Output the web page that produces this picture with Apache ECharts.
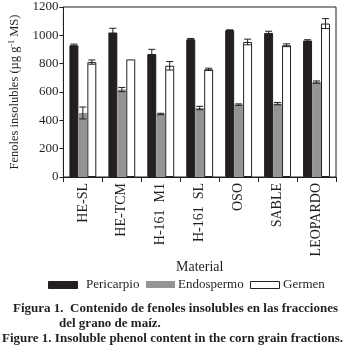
<!DOCTYPE html>
<html>
<head>
<meta charset="utf-8">
<script src="https://cdn.jsdelivr.net/npm/echarts@6/dist/echarts.min.js"></script>
<style>
  html, body { margin: 0; padding: 0; background: #fff; }
  #chart { width: 347px; height: 360px; }
</style>
</head>
<body>
<div id="chart"></div>
<script>
const categories = ['HE-SL', 'HE-TCM', 'H-161  M1', 'H-161  SL', 'OSO', 'SABLE', 'LEOPARDO']
const pericarpio = [930, 1020, 868, 972, 1036, 1017, 963]
const pericarpioErr = [8, 30, 33, 6, 3, 12, 6]
const endospermo = [452, 617, 445, 487, 511, 518, 670]
const endospermoErr = [42, 15, 5, 12, 5, 8, 8]
const germen = [811, 830, 785, 760, 953, 930, 1083]
const germenErr = [15, 0, 30, 8, 20, 10, 35]
const yTicks = [0, 200, 400, 600, 800, 1000, 1200]
const legendNames = ['Pericarpio', 'Endospermo', 'Germen']

const serif = 'Liberation Serif'
const ink = '#231f20'
const gray = '#949494'
const barPct = 0.23

const chart = echarts.init(document.getElementById('chart'))

// error bars drawn over the grouped bars, pos = -1 / 0 / 1
function errSeries(values, errs, pos) {
  return {
    type: 'custom',
    z: 5,
    silent: true,
    data: values.map((v, i) => [i, v, errs[i]]),
    renderItem(params, api) {
      const idx = api.value(0)
      const val = api.value(1)
      const err = api.value(2)
      if (!err) return null
      const band = api.size([1, 0])[0]
      const x = api.coord([idx, val])[0] + pos * band * barPct
      const yTop = api.coord([idx, val + err])[1]
      const yBot = api.coord([idx, val - err])[1]
      const cap = 3.5
      const style = { stroke: ink, lineWidth: 1 }
      return {
        type: 'group',
        children: [
          { type: 'line', shape: { x1: x, y1: yTop, x2: x, y2: yBot }, style },
          { type: 'line', shape: { x1: x - cap, y1: yTop, x2: x + cap, y2: yTop }, style },
          { type: 'line', shape: { x1: x - cap, y1: yBot, x2: x + cap, y2: yBot }, style },
        ],
      }
    },
  }
}

const captionStyle = { fontFamily: serif, fontWeight: 'bold', fontSize: 13, fill: ink }

// legend drawn as graphics so the swatches line up like the printed figure
const legendX = [48, 146, 250]
const legendTextX = [86, 178, 283]
const legendFill = [ink, gray, '#ffffff']
const legendGraphic = []
legendNames.forEach((n, i) => {
  legendGraphic.push({
    type: 'rect', left: legendX[i], top: 281,
    shape: { width: 29, height: 7 },
    style: { fill: legendFill[i], stroke: ink, lineWidth: i === 1 ? 0 : 1 },
  })
  legendGraphic.push({
    type: 'text', left: legendTextX[i], top: 278,
    style: { text: n, fontFamily: serif, fontWeight: 'normal', fontSize: 13, fill: ink },
  })
})

const option = {
  animation: false,
  textStyle: { fontFamily: serif },
  grid: {
    left: 55, right: 11, top: 7, bottom: 183,
    show: true, borderColor: ink, borderWidth: 1,
  },
  xAxis: {
    type: 'category',
    data: categories,
    name: 'Material',
    nameLocation: 'middle',
    nameGap: 80,
    nameTextStyle: { fontFamily: serif, fontSize: 14, color: ink },
    axisLine: { lineStyle: { color: ink } },
    axisTick: { show: true, length: 5, lineStyle: { color: ink } },
    axisLabel: { rotate: 90, margin: 6, fontFamily: serif, fontSize: 14, color: ink },
  },
  yAxis: {
    type: 'value',
    min: yTicks[0],
    max: yTicks[yTicks.length - 1],
    interval: 200,
    name: '{a|Fenoles insolubles (µg g}{s|-1}{a| MS)}',
    nameLocation: 'middle',
    nameGap: 39,
    nameTextStyle: {
      rich: {
        a: { fontFamily: serif, fontSize: 12.5, color: ink },
        s: { fontFamily: serif, fontSize: 8, color: ink, verticalAlign: 'top', padding: [0, 0, 6, 0] },
      },
    },
    splitLine: { show: false },
    axisLine: { show: true, lineStyle: { color: ink } },
    axisTick: { show: true, length: 4, lineStyle: { color: ink } },
    axisLabel: { margin: 5, fontFamily: serif, fontSize: 13, color: ink, formatter: (v) => String(v) },
  },
  series: [
    {
      name: 'Pericarpio', type: 'bar', data: pericarpio,
      barWidth: '23%', barGap: '0%',
      itemStyle: { color: ink, borderColor: ink, borderWidth: 1 },
    },
    {
      name: 'Endospermo', type: 'bar', data: endospermo,
      barWidth: '23%', barGap: '0%',
      itemStyle: { color: gray },
    },
    {
      name: 'Germen', type: 'bar', data: germen,
      barWidth: '23%', barGap: '0%',
      itemStyle: { color: '#ffffff', borderColor: ink, borderWidth: 1 },
    },
    errSeries(pericarpio, pericarpioErr, -1),
    errSeries(endospermo, endospermoErr, 0),
    errSeries(germen, germenErr, 1),
  ],
  graphic: legendGraphic.concat([
    {
      type: 'text', left: 13, top: 302,
      style: Object.assign({ text: 'Figura 1.  Contenido de fenoles insolubles en las fracciones' }, captionStyle),
    },
    {
      type: 'text', left: 59, top: 317,
      style: Object.assign({ text: 'del grano de maíz.' }, captionStyle),
    },
    {
      type: 'text', left: 2, top: 332,
      style: Object.assign({ text: 'Figure 1. Insoluble phenol content in the corn grain fractions.' }, captionStyle),
    },
  ]),
}

chart.setOption(option)
</script>
</body>
</html>
